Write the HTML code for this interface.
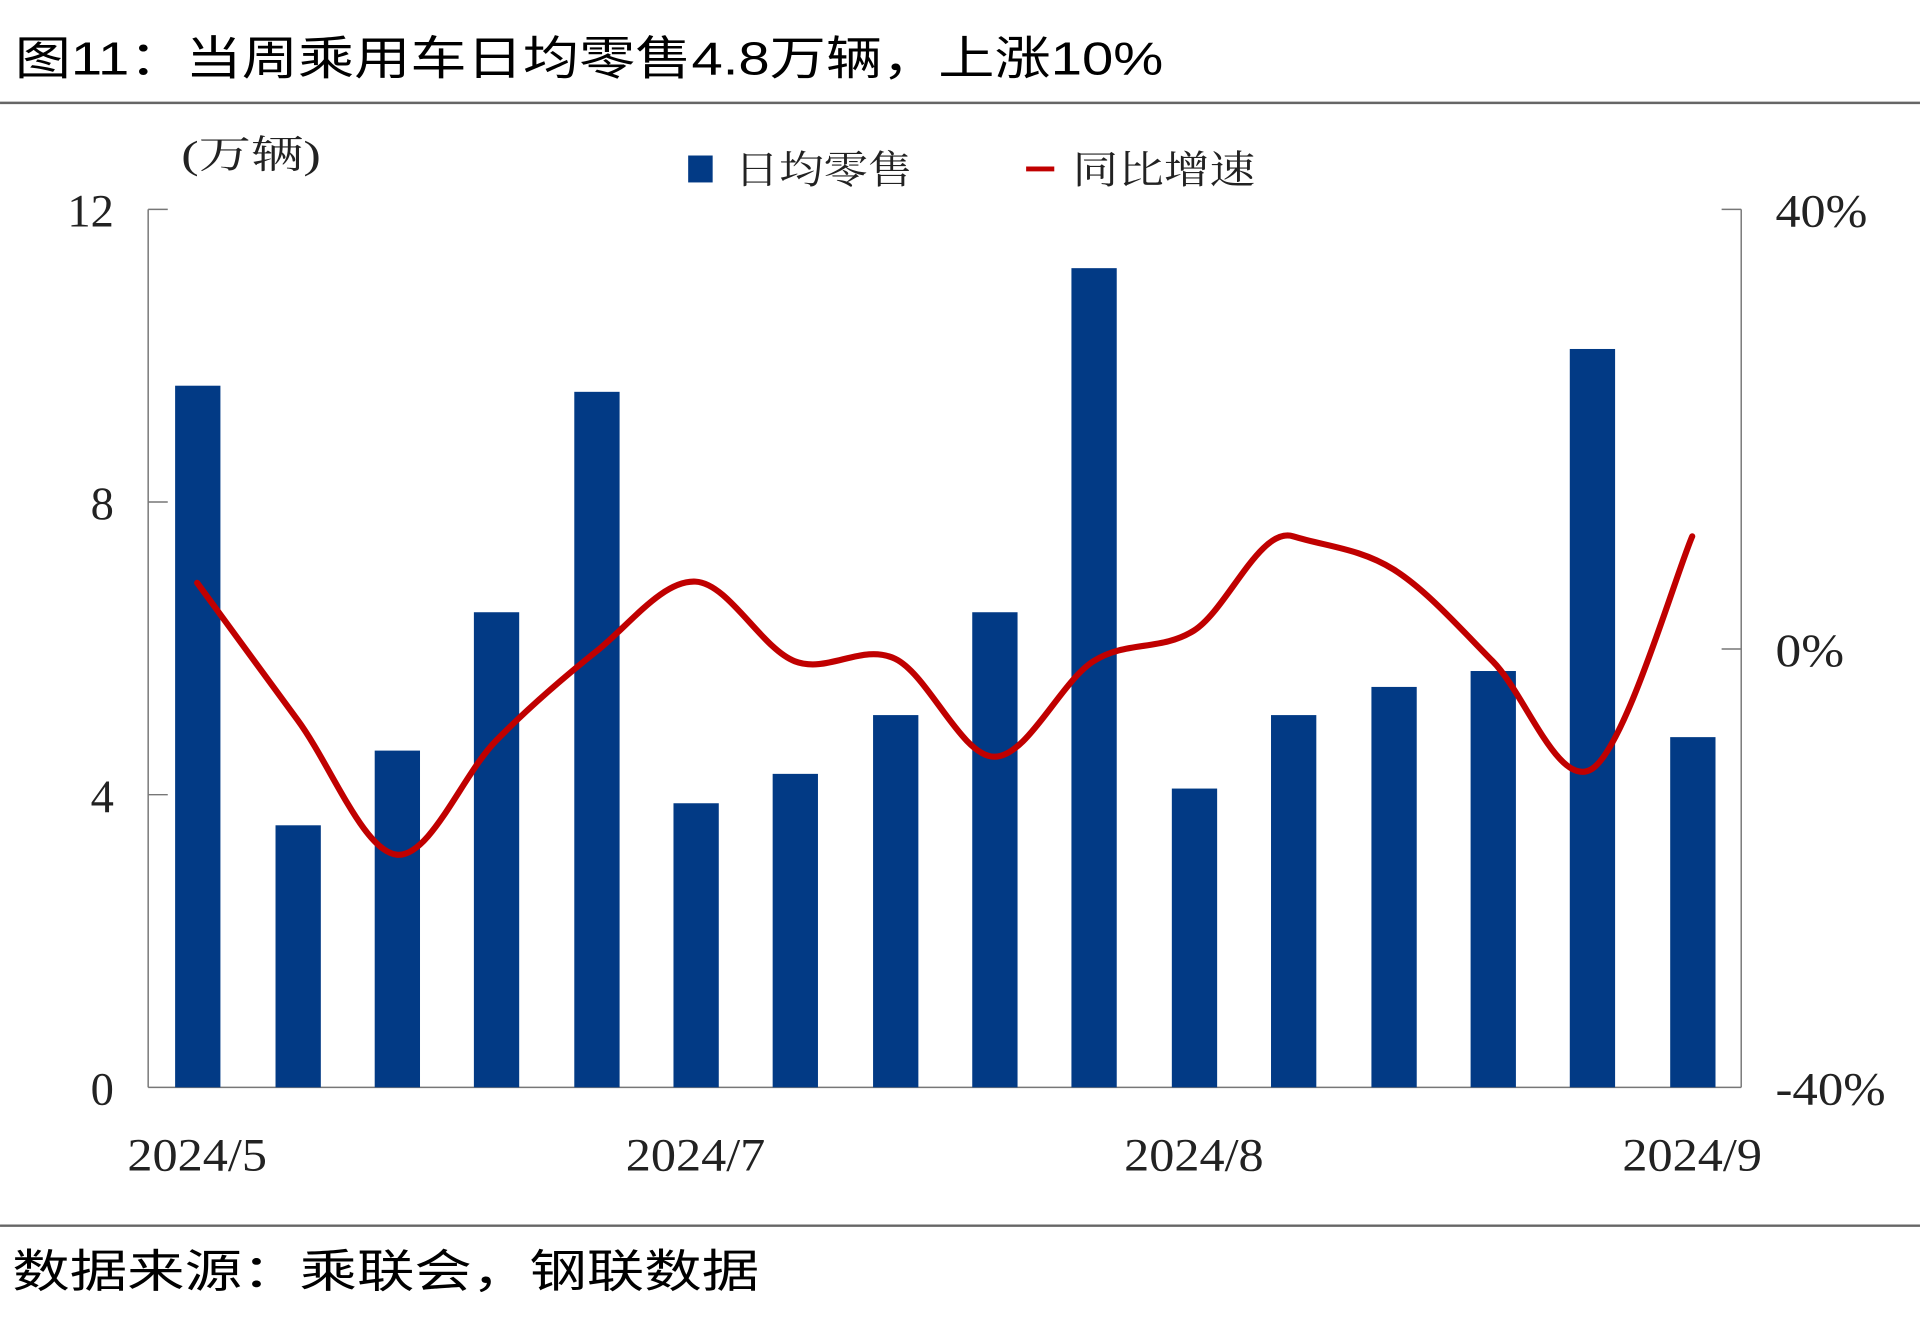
<!DOCTYPE html>
<html><head><meta charset="utf-8"><style>
html,body{margin:0;padding:0;background:#fff;}
svg{display:block;}
.cn{font-family:"Liberation Sans","Noto Sans CJK SC",sans-serif;}
.sf{font-family:"Liberation Serif","Noto Serif CJK SC",serif;}
</style></head><body>
<svg width="1920" height="1331" viewBox="0 0 1568 1087" xmlns="http://www.w3.org/2000/svg">
<rect width="1568" height="1087" fill="#fff"/>
<text x="12" y="61" class="cn" font-size="38" fill="#000" textLength="938" lengthAdjust="spacingAndGlyphs">图11：当周乘用车日均零售4.8万辆，上涨10%</text>
<line x1="0" y1="84" x2="1568" y2="84" stroke="#666" stroke-width="2"/>
<line x1="0" y1="1001" x2="1568" y2="1001" stroke="#666" stroke-width="2"/>
<text x="10" y="1051" class="cn" font-size="37" fill="#000" textLength="610" lengthAdjust="spacingAndGlyphs">数据来源：乘联会，钢联数据</text>
<text x="148" y="137" class="sf" font-size="32" fill="#222" textLength="114" lengthAdjust="spacingAndGlyphs">(万辆)</text>
<rect x="562" y="127" width="20" height="22" fill="#023a85"/>
<text x="600" y="150" class="sf" font-size="32" fill="#222" textLength="145" lengthAdjust="spacingAndGlyphs">日均零售</text>
<line x1="838" y1="138" x2="861" y2="138" stroke="#c00000" stroke-width="4"/>
<text x="876" y="150" class="sf" font-size="32" fill="#222" textLength="149" lengthAdjust="spacingAndGlyphs">同比增速</text>
<g stroke="#777" stroke-width="1.2">
<line x1="121" y1="171" x2="121" y2="888"/>
<line x1="121" y1="888" x2="1422" y2="888"/>
<line x1="1422" y1="171" x2="1422" y2="888"/>
<line x1="121" y1="171" x2="137" y2="171"/>
<line x1="121" y1="410" x2="137" y2="410"/>
<line x1="121" y1="649" x2="137" y2="649"/>
<line x1="1406" y1="171" x2="1422" y2="171"/>
<line x1="1406" y1="530" x2="1422" y2="530"/>
</g>
<g class="sf" font-size="38" fill="#222" text-anchor="end">
<text x="93" y="185">12</text><text x="93" y="424">8</text><text x="93" y="663">4</text><text x="93" y="902">0</text>
</g>
<g class="sf" font-size="38" fill="#222">
<text x="1450" y="185" textLength="75" lengthAdjust="spacingAndGlyphs">40%</text>
<text x="1450" y="544" textLength="56" lengthAdjust="spacingAndGlyphs">0%</text>
<text x="1450" y="902" textLength="90" lengthAdjust="spacingAndGlyphs">-40%</text>
</g>
<g class="sf" font-size="38" fill="#222">
<text x="104" y="956" textLength="114" lengthAdjust="spacingAndGlyphs">2024/5</text>
<text x="511" y="956" textLength="114" lengthAdjust="spacingAndGlyphs">2024/7</text>
<text x="918" y="956" textLength="114" lengthAdjust="spacingAndGlyphs">2024/8</text>
<text x="1325" y="956" textLength="114" lengthAdjust="spacingAndGlyphs">2024/9</text>
</g>
<g fill="#023a85">
<rect x="143" y="315" width="37" height="573"/>
<rect x="225" y="674" width="37" height="214"/>
<rect x="306" y="613" width="37" height="275"/>
<rect x="387" y="500" width="37" height="388"/>
<rect x="469" y="320" width="37" height="568"/>
<rect x="550" y="656" width="37" height="232"/>
<rect x="631" y="632" width="37" height="256"/>
<rect x="713" y="584" width="37" height="304"/>
<rect x="794" y="500" width="37" height="388"/>
<rect x="875" y="219" width="37" height="669"/>
<rect x="957" y="644" width="37" height="244"/>
<rect x="1038" y="584" width="37" height="304"/>
<rect x="1120" y="561" width="37" height="327"/>
<rect x="1201" y="548" width="37" height="340"/>
<rect x="1282" y="285" width="37" height="603"/>
<rect x="1364" y="602" width="37" height="286"/>
</g>
<path fill="none" stroke="#c00000" stroke-width="5" stroke-linecap="round" stroke-linejoin="round" d="M161,476 C174.7,494.7 215.8,551 243,588 C270.2,625 297,695.2 324,698 C351,700.8 377.8,632.7 405,605 C432.2,577.3 459.8,553.7 487,532 C514.2,510.3 541,473.7 568,475 C595,476.3 621.8,529.5 649,540 C676.2,550.5 703.8,525 731,538 C758.2,551 785,617.7 812,618 C839,618.3 865.8,557.2 893,540 C920.2,522.8 947.8,532 975,515 C1002.2,498 1028.8,429.7 1056,438 C1083.2,446.3 1110.8,448 1138,465 C1165.2,482 1192,512.8 1219,540 C1246,567.2 1272.8,644.7 1300,628 C1327.2,611.3 1368.3,469.7 1382,438"/>
</svg>
</body></html>
